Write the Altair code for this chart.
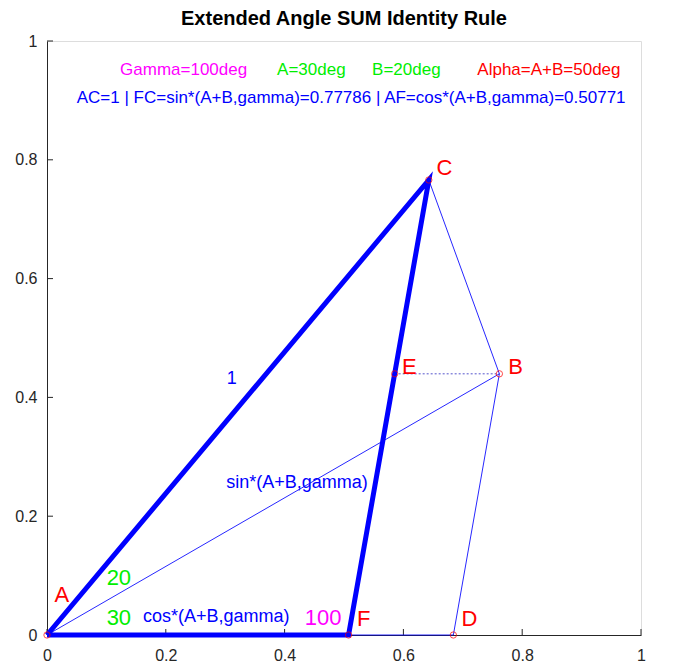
import altair as alt
import pandas as pd

# Points of the figure
pt_names = ["A", "F", "D", "C", "B", "E"]
pt_x = [0.0, 0.5077, 0.6841, 0.6428, 0.7616, 0.5853]
pt_y = [0.0, 0.0, 0.0, 0.7660, 0.4397, 0.4397]
P = {n: (x, y) for n, x, y in zip(pt_names, pt_x, pt_y)}

thick_path = ["A", "C", "F", "A"]
thin_segments = [("A", "B"), ("B", "C"), ("B", "D"), ("F", "D")]
dotted_segments = [("E", "B")]

tick_values = [0, 0.2, 0.4, 0.6, 0.8, 1]

# Labels
pt_label_text = ["A", "F", "D", "C", "B", "E"]
pt_label_x = [0.025, 0.533, 0.711, 0.669, 0.789, 0.610]
pt_label_y = [0.067, 0.027, 0.027, 0.786, 0.451, 0.451]

blue_text = ["1", "sin*(A+B,gamma)", "cos*(A+B,gamma)"]
blue_x = [0.311, 0.421, 0.285]
blue_y = [0.431, 0.256, 0.030]

green_text = ["20", "30"]
green_x = [0.121, 0.121]
green_y = [0.096, 0.029]

magenta_text = ["100"]
magenta_x = [0.465]
magenta_y = [0.029]

hdr_text = ["Gamma=100deg", "A=30deg", "B=20deg", "Alpha=A+B=50deg"]
hdr_x = [0.230, 0.445, 0.605, 0.845]
hdr_y = [0.951, 0.951, 0.951, 0.951]
hdr_color = ["#ff00ff", "#00ee00", "#00ee00", "#ff0000"]

info_text = ["AC=1 | FC=sin*(A+B,gamma)=0.77786 | AF=cos*(A+B,gamma)=0.50771"]
info_x = [0.512]
info_y = [0.904]

FONT = "Liberation Sans"

xs = alt.Scale(domain=[0, 1], nice=False)
ys = alt.Scale(domain=[0, 1], nice=False)

def seg_df(segs):
    rows = []
    for i, (a, b) in enumerate(segs):
        rows.append({"seg": i, "o": 0, "x": P[a][0], "y": P[a][1]})
        rows.append({"seg": i, "o": 1, "x": P[b][0], "y": P[b][1]})
    return pd.DataFrame(rows)

thick_df = pd.DataFrame({"o": list(range(len(thick_path))),
                         "x": [P[n][0] for n in thick_path],
                         "y": [P[n][1] for n in thick_path]})

xax = alt.Axis(values=tick_values, format="~g", ticks=False, grid=False, title=None,
               domainColor="#262626", labelColor="#262626", labelFontSize=16,
               labelFont=FONT, labelPadding=12, labelFlush=False)
yax = alt.Axis(values=tick_values, format="~g", ticks=False, grid=False, title=None,
               domainColor="#262626", labelColor="#262626", labelFontSize=16,
               labelFont=FONT, labelPadding=10, labelFlush=False)

axes_base = alt.Chart(pd.DataFrame({"t": tick_values})).mark_point(opacity=0).encode(
    x=alt.X("t:Q", scale=xs, axis=xax),
    y=alt.Y("t:Q", scale=ys, axis=yax),
)
xticks = alt.Chart(pd.DataFrame({"t": tick_values})).mark_rule(color="#262626", strokeWidth=1).encode(
    x=alt.X("t:Q", scale=xs),
    y=alt.value(594),
    y2=alt.value(588),
)
yticks = alt.Chart(pd.DataFrame({"t": tick_values})).mark_rule(color="#262626", strokeWidth=1).encode(
    y=alt.Y("t:Q", scale=ys),
    x=alt.value(0),
    x2=alt.value(6),
)

thin = alt.Chart(seg_df(thin_segments)).mark_line(color="#0000ff", strokeWidth=1, opacity=0.85).encode(
    x=alt.X("x:Q", scale=xs), y=alt.Y("y:Q", scale=ys), detail="seg:N", order="o:Q")
dotted = alt.Chart(seg_df(dotted_segments)).mark_line(color="#5555cc", strokeWidth=1, strokeDash=[2, 2]).encode(
    x=alt.X("x:Q", scale=xs), y=alt.Y("y:Q", scale=ys), detail="seg:N", order="o:Q")
thick = alt.Chart(thick_df).mark_line(color="#0000ff", strokeWidth=5, strokeJoin="miter").encode(
    x=alt.X("x:Q", scale=xs), y=alt.Y("y:Q", scale=ys), order="o:Q")

pts = alt.Chart(pd.DataFrame({"n": pt_names, "x": pt_x, "y": pt_y})).mark_point(
    shape="circle", filled=False, color="#ff0000", size=40, strokeWidth=1).encode(
    x=alt.X("x:Q", scale=xs), y=alt.Y("y:Q", scale=ys))

def text_layer(texts, x, y, color, size):
    return alt.Chart(pd.DataFrame({"t": texts, "x": x, "y": y})).mark_text(
        font=FONT, fontSize=size, color=color, align="center", baseline="middle").encode(
        x=alt.X("x:Q", scale=xs), y=alt.Y("y:Q", scale=ys), text="t:N")

pt_labels = text_layer(pt_label_text, pt_label_x, pt_label_y, "#ff0000", 22)
blue_labels = text_layer(blue_text, blue_x, blue_y, "#0000ff", 18)
green_labels = text_layer(green_text, green_x, green_y, "#00ee00", 22)
mag_labels = text_layer(magenta_text, magenta_x, magenta_y, "#ff00ff", 22)
info_labels = text_layer(info_text, info_x, info_y, "#0000ff", 17)

hdr = alt.Chart(pd.DataFrame({"t": hdr_text, "x": hdr_x, "y": hdr_y, "c": hdr_color})).mark_text(
    font=FONT, fontSize=17, align="center", baseline="middle").encode(
    x=alt.X("x:Q", scale=xs), y=alt.Y("y:Q", scale=ys), text="t:N",
    color=alt.Color("c:N", scale=None))

chart = alt.layer(
    axes_base, xticks, yticks, thin, dotted, thick, pts,
    pt_labels, blue_labels, green_labels, mag_labels, hdr, info_labels
).properties(
    width=594, height=594,
    title=alt.TitleParams("Extended Angle SUM Identity Rule", font=FONT, fontSize=20,
                          fontWeight="bold", color="#000000", offset=4, anchor="middle"),
    autosize=alt.AutoSizeParams(type="none"),
    padding={"left": 39, "top": 33, "right": 36, "bottom": 27},
).configure_view(stroke=None).configure(background="white")

chart.save("out.html", embed_options={"renderer": "svg", "actions": False})
